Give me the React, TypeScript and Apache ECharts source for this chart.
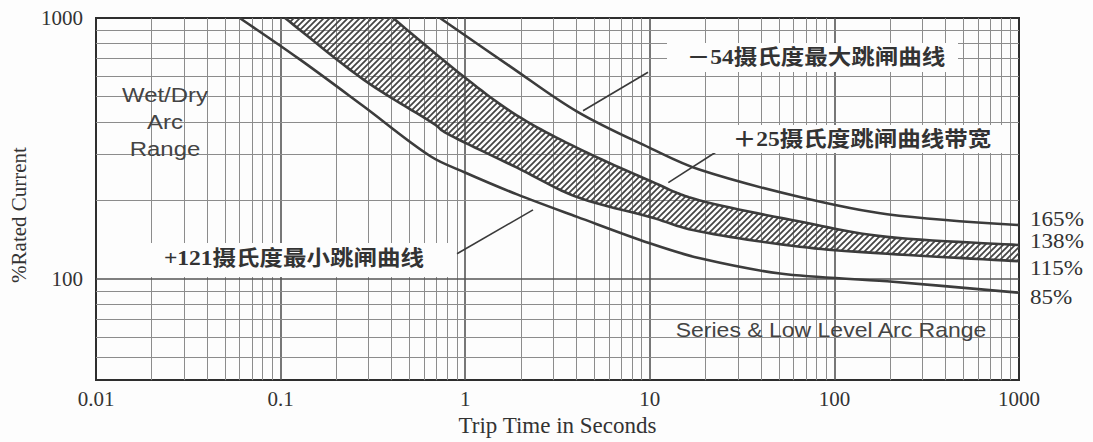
import React, { useEffect, useRef } from 'react';
import * as echarts from 'echarts';

// Axis tick labels (log scales)
const xTickLabels = ['0.01', '0.1', '1', '10', '100', '1000'];
const yTickLabels = ['100', '1000'];

// +121°C minimum trip curve
const minTripTime = [0.06, 0.127, 0.279, 0.645, 0.997, 1.91, 4.04, 10, 18.7, 50.8, 193, 1000];
const minTripCurrent = [1000, 694, 461, 296, 256, 211, 173, 137, 120, 105, 98, 88.6];

// +25°C trip band, lower edge
const bandLowTime = [0.1057, 0.279, 0.645, 0.827, 1.91, 4.04, 10, 18.7, 65, 193, 1000];
const bandLowCurrent = [1000, 583, 402, 356, 267, 206, 173, 152, 133, 125, 117];

// +25°C trip band, upper edge
const bandHighTime = [0.406, 0.973, 1.91, 4.04, 10, 18.7, 65, 193, 1000];
const bandHighCurrent = [1000, 599, 423, 318, 238, 200, 166, 145, 135];

// -54°C maximum trip curve
const maxTripTime = [0.73, 1.75, 4.04, 10, 18.7, 65, 193, 1000];
const maxTripCurrent = [1000, 653, 438, 318, 262, 206, 177, 161];

const percentLabels = ['165%', '138%', '115%', '85%'];
const curveLabels = ['－54摄氏度最大跳闸曲线', '＋25摄氏度跳闸曲线带宽', '+121摄氏度最小跳闸曲线'];
const regionLabels = ['Wet/Dry\nArc\nRange', 'Series & Low Level Arc Range'];
const xAxisTitle = 'Trip Time in Seconds';
const yAxisTitle = '%Rated Current';

// leader lines (data coordinates: [seconds, %])
const leaderStart = [[4.35, 441], [12.6, 234], [0.903, 125]];
const leaderEnd = [[9.78, 620], [23.4, 310], [2.33, 184]];

const BG = '#fdfdfd';
const INK = '#333333';
const CURVE = '#3c3c3c';

function spline(pts: number[][], steps = 12): number[][] {
  const out: number[][] = [];
  const n = pts.length;
  for (let i = 0; i < n - 1; i++) {
    const p0 = pts[Math.max(i - 1, 0)];
    const p1 = pts[i];
    const p2 = pts[i + 1];
    const p3 = pts[Math.min(i + 2, n - 1)];
    for (let s = 0; s < steps; s++) {
      const t = s / steps;
      const t2 = t * t;
      const t3 = t2 * t;
      out.push([0, 1].map(
        (k) =>
          0.5 *
          (2 * p1[k] +
            (-p0[k] + p2[k]) * t +
            (2 * p0[k] - 5 * p1[k] + 4 * p2[k] - p3[k]) * t2 +
            (-p0[k] + 3 * p1[k] - 3 * p2[k] + p3[k]) * t3)
      ));
    }
  }
  out.push(pts[n - 1]);
  return out;
}

function decadeLabel(v: number, labels: string[], firstExp: number): string {
  const l = Math.log10(v);
  const r = Math.round(l);
  if (Math.abs(l - r) > 1e-6) return '';
  const idx = r - firstExp;
  return labels[idx] ?? '';
}

export default function App() {
  const ref = useRef<HTMLDivElement>(null);

  useEffect(() => {
    if (!ref.current) return;
    const chart = echarts.init(ref.current, undefined, { renderer: 'svg' });

    // hatch pattern for the band
    const c = document.createElement('canvas');
    c.width = 6;
    c.height = 6;
    const g = c.getContext('2d')!;
    g.strokeStyle = '#444';
    g.lineWidth = 1.7;
    g.beginPath();
    g.moveTo(0, 6);
    g.lineTo(6, 0);
    g.moveTo(-1, 1);
    g.lineTo(1, -1);
    g.moveTo(5, 7);
    g.lineTo(7, 5);
    g.stroke();
    const pattern = { image: c, repeat: 'repeat' };

    // grid values
    const xMinor: number[] = [];
    const xMajor = [0.1, 1, 10, 100];
    [0.01, 0.1, 1, 10, 100].forEach((d) => {
      for (let k = 2; k <= 9; k++) xMinor.push(+(k * d).toPrecision(3));
    });
    const yMinor = [50, 60, 70, 80, 90, 200, 300, 400, 500, 600, 700, 800, 900];
    const yMajor = [100];
    const minorStyle = { color: '#8c8c8c', width: 1, type: 'solid' };
    const majorStyle = { color: '#555', width: 1.6, type: 'solid' };

    const gridLines = [
      ...xMinor.map((v) => ({ xAxis: v, lineStyle: minorStyle })),
      ...xMajor.map((v) => ({ xAxis: v, lineStyle: majorStyle })),
      ...yMinor.map((v) => ({ yAxis: v, lineStyle: minorStyle })),
      ...yMajor.map((v) => ({ yAxis: v, lineStyle: majorStyle })),
    ];

    const serif = '"Liberation Serif", "Noto Sans CJK SC", serif';
    const sans = '"Liberation Sans", Arial, sans-serif';
    const cjk = '"Liberation Serif", "Noto Sans CJK SC", sans-serif';

    const percentY = [219, 241, 268, 297];

    const option: any = {
      animation: false,
      backgroundColor: BG,
      grid: {
        left: 96,
        right: 74,
        top: 18,
        bottom: 57,
        show: true,
        borderColor: '#2e2e2e',
        borderWidth: 2,
        backgroundColor: 'transparent',
      },
      xAxis: {
        type: 'log',
        logBase: 10,
        min: 0.01,
        max: 1000,
        axisLine: { show: false },
        axisTick: { show: false },
        splitLine: { show: false },
        axisLabel: {
          color: INK,
          fontSize: 21,
          fontFamily: serif,
          margin: 8,
          formatter: (v: number) => decadeLabel(v, xTickLabels, -2),
        },
        name: xAxisTitle,
        nameLocation: 'middle',
        nameGap: 32,
        nameTextStyle: { color: INK, fontSize: 23, fontFamily: serif },
      },
      yAxis: {
        type: 'log',
        logBase: 10,
        min: 41,
        max: 1000,
        axisLine: { show: false },
        axisTick: { show: false },
        splitLine: { show: false },
        axisLabel: {
          color: INK,
          fontSize: 21,
          fontFamily: serif,
          margin: 13,
          formatter: (v: number) => decadeLabel(v, yTickLabels, 2),
        },
      },
      series: [
        {
          type: 'line',
          data: [],
          z: 1,
          silent: true,
          markLine: {
            silent: true,
            z: 1,
            animation: false,
            symbol: ['none', 'none'],
            label: { show: false },
            emphasis: { disabled: true },
            data: gridLines,
          },
        },
        {
          type: 'custom',
          coordinateSystem: 'cartesian2d',
          z: 3,
          silent: true,
          data: [[1, 100]],
          renderItem: (_params: any, api: any) => {
            const low = spline(bandLowTime.map((t, i) => api.coord([t, bandLowCurrent[i]])));
            const high = spline(bandHighTime.map((t, i) => api.coord([t, bandHighCurrent[i]])));
            return {
              type: 'group',
              children: [
                {
                  type: 'polygon',
                  shape: { points: low.concat(high.slice().reverse()) },
                  style: { fill: pattern, stroke: null },
                },
                {
                  type: 'polyline',
                  shape: { points: low },
                  style: { stroke: CURVE, lineWidth: 2.6, fill: null, lineJoin: 'round' },
                },
                {
                  type: 'polyline',
                  shape: { points: high },
                  style: { stroke: CURVE, lineWidth: 2.6, fill: null, lineJoin: 'round' },
                },
              ],
            };
          },
        },
        {
          name: '+121 min',
          type: 'line',
          z: 4,
          smooth: 0.35,
          showSymbol: false,
          silent: true,
          lineStyle: { color: CURVE, width: 2.6 },
          data: minTripTime.map((t, i) => [t, minTripCurrent[i]]),
        },
        {
          name: '-54 max',
          type: 'line',
          z: 4,
          smooth: 0.35,
          showSymbol: false,
          silent: true,
          lineStyle: { color: CURVE, width: 2.6 },
          data: maxTripTime.map((t, i) => [t, maxTripCurrent[i]]),
        },
        {
          type: 'line',
          data: [],
          z: 4,
          silent: true,
          markLine: {
            silent: true,
            z: 4,
            animation: false,
            symbol: ['none', 'none'],
            label: { show: false },
            emphasis: { disabled: true },
            lineStyle: { color: '#3a3a3a', width: 1.6, type: 'solid' },
            data: leaderStart.map((s, i) => [{ coord: s }, { coord: leaderEnd[i] }]),
          },
        },
      ],
      graphic: [
        // label boxes
        { type: 'rect', z: 100, shape: { x: 667, y: 43, width: 291, height: 29 }, style: { fill: BG } },
        { type: 'rect', z: 100, shape: { x: 710, y: 125, width: 295, height: 28 }, style: { fill: BG } },
        { type: 'rect', z: 100, shape: { x: 150, y: 243, width: 302, height: 34 }, style: { fill: BG } },
        {
          type: 'text', z: 101, x: 816, y: 57, scaleX: 1.12,
          style: { text: curveLabels[0], fill: INK, fontSize: 21, fontFamily: cjk, fontWeight: 'bold', align: 'center', verticalAlign: 'middle' },
        },
        {
          type: 'text', z: 101, x: 862, y: 139, scaleX: 1.12,
          style: { text: curveLabels[1], fill: INK, fontSize: 21, fontFamily: cjk, fontWeight: 'bold', align: 'center', verticalAlign: 'middle' },
        },
        {
          type: 'text', z: 101, x: 294, y: 258, scaleX: 1.12,
          style: { text: curveLabels[2], fill: INK, fontSize: 21, fontFamily: cjk, fontWeight: 'bold', align: 'center', verticalAlign: 'middle' },
        },
        {
          type: 'text', z: 101, x: 165, y: 122, scaleX: 1.14,
          style: { text: regionLabels[0], fill: '#444', fontSize: 21, lineHeight: 27, fontFamily: sans, align: 'center', verticalAlign: 'middle' },
        },
        {
          type: 'text', z: 101, x: 831, y: 330, scaleX: 1.15,
          style: { text: regionLabels[1], fill: '#444', fontSize: 20, fontFamily: sans, align: 'center', verticalAlign: 'middle' },
        },
        ...percentLabels.map((t, i) => ({
          type: 'text', z: 101, x: 1030, y: percentY[i], scaleX: 1.1,
          style: { text: t, fill: INK, fontSize: 21, fontFamily: serif, align: 'left', verticalAlign: 'middle' },
        })),
        {
          type: 'text', z: 101, x: 19, y: 215, rotation: Math.PI / 2,
          style: { text: yAxisTitle, fill: INK, fontSize: 21, fontFamily: serif, align: 'center', verticalAlign: 'middle' },
        },
      ],
    };

    chart.setOption(option);
    return () => chart.dispose();
  }, []);

  return (
    <div
      ref={ref}
      style={{ position: 'fixed', left: 0, top: 0, width: 1093, height: 442, background: BG }}
    />
  );
}
